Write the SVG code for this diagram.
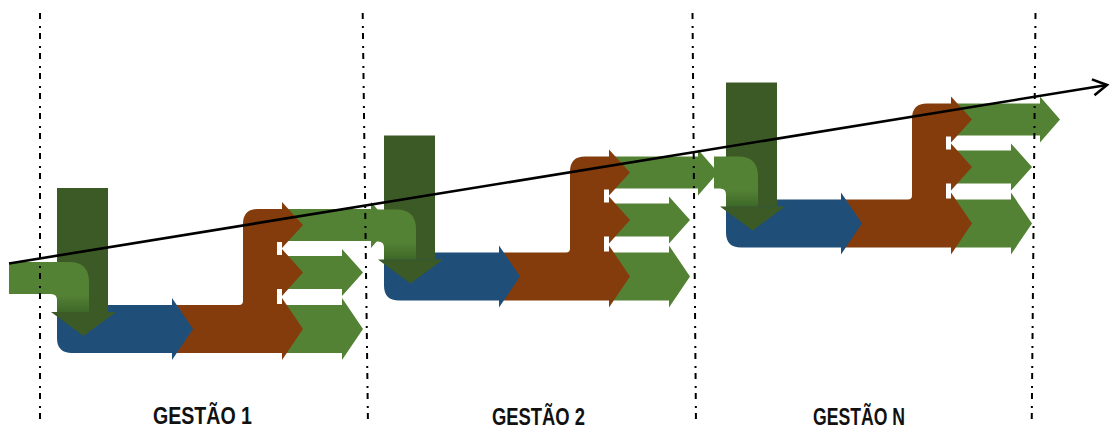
<svg xmlns="http://www.w3.org/2000/svg" width="1110" height="430" viewBox="0 0 1110 430">
  <style>
    .blue{fill:#1F4E79}
    .brown{fill:#843C0C}
    .green{fill:#548235}
    .dark{fill:#3C5A26}
    .bend{fill:url(#bendShade)}
    .gap{fill:#fff}
    .guide{stroke:#000;stroke-width:2;stroke-dasharray:6 7 2 5;fill:none}
    .trend{stroke:#000;stroke-width:2.6;fill:none}
    .label{font-family:"Liberation Sans",Arial,sans-serif;font-weight:bold;font-size:23px;fill:#111}
  </style>
  <defs>
    <linearGradient id="bendShade" x1="0" y1="0" x2="0" y2="1">
      <stop offset="0" stop-color="#548235"/>
      <stop offset="0.66" stop-color="#548235"/>
      <stop offset="1" stop-color="#3D6828"/>
    </linearGradient>
    <marker id="openHead" markerUnits="userSpaceOnUse" viewBox="-16 -10 18 20" refX="0" refY="0" markerWidth="18" markerHeight="20" orient="auto" overflow="visible">
      <path d="M-14,-8 L0,0 L-14,8" fill="none" stroke="#000" stroke-width="2.6"/>
    </marker>
  </defs>

  <!-- stages are drawn last-to-first so each stage's outgoing arrow sits on top of the next stage -->

  <!-- stage N -->
  <g id="stageN" transform="translate(669,-105.5)">
    <g id="stageN-result" class="brown"><path d="M173,305 H239 Q243,305 243,301 V224 Q243,209 258,209 H282 V353 H173 Z"/></g>
    <rect class="gap" x="277" y="242" width="6" height="13"/>
    <rect class="gap" x="277" y="289" width="6" height="15"/>
    <g id="stageN-out" class="green">
      <polygon points="282,209 371,209 371,202 391,225 371,248 371,241 282,241"/>
      <polygon points="282,256 342,256 342,249 363,272.5 342,296 342,289 282,289"/>
      <polygon points="282,305 342,305 342,298 363,329 342,360 342,353 282,353"/>
    </g>
    <g id="stageN-result-heads" class="brown">
      <polygon points="282,202 303,225 282,248"/>
      <polygon points="282,249 303,272.5 282,296"/>
      <polygon points="282,298 303,329 282,360"/>
    </g>
    <g id="stageN-process" class="blue"><path d="M57,305 H172 V298 L193,329 L172,360 V353 H72 Q57,353 57,338 Z"/></g>
    <g id="stageN-plan" class="dark">
      <rect x="57" y="188" width="51" height="124"/>
    </g>
    <g id="stageN-input" class="bend"><path d="M45,262 H69 Q89,262 89,282 V312 H57 V300 Q57,294 51,294 H45 Z"/></g>
    <g id="stageN-plan-head" class="dark"><polygon points="51,312 116,312 83.5,336"/></g>
  </g>

  <!-- stage 2 -->
  <g id="stage2" transform="translate(327,-52.5)">
    <g id="stage2-result" class="brown"><path d="M173,305 H239 Q243,305 243,301 V224 Q243,209 258,209 H282 V353 H173 Z"/></g>
    <rect class="gap" x="277" y="242" width="6" height="13"/>
    <rect class="gap" x="277" y="289" width="6" height="15"/>
    <g id="stage2-out" class="green">
      <polygon points="282,209 371,209 371,202 391,225 371,248 371,241 282,241"/>
      <polygon points="282,256 342,256 342,249 363,272.5 342,296 342,289 282,289"/>
      <polygon points="282,305 342,305 342,298 363,329 342,360 342,353 282,353"/>
    </g>
    <g id="stage2-result-heads" class="brown">
      <polygon points="282,202 303,225 282,248"/>
      <polygon points="282,249 303,272.5 282,296"/>
      <polygon points="282,298 303,329 282,360"/>
    </g>
    <g id="stage2-process" class="blue"><path d="M57,305 H172 V298 L193,329 L172,360 V353 H72 Q57,353 57,338 Z"/></g>
    <g id="stage2-plan" class="dark">
      <rect x="57" y="188" width="51" height="124"/>
    </g>
    <g id="stage2-input" class="bend"><path d="M45,262 H69 Q89,262 89,282 V312 H57 V300 Q57,294 51,294 H45 Z"/></g>
    <g id="stage2-plan-head" class="dark"><polygon points="51,312 116,312 83.5,336"/></g>
  </g>

  <!-- stage 1 -->
  <g id="stage1">
    <g id="stage1-result" class="brown"><path d="M173,305 H239 Q243,305 243,301 V224 Q243,209 258,209 H282 V353 H173 Z"/></g>
    <rect class="gap" x="277" y="242" width="6" height="13"/>
    <rect class="gap" x="277" y="289" width="6" height="15"/>
    <g id="stage1-out" class="green">
      <polygon points="282,209 371,209 371,202 391,225 371,248 371,241 282,241"/>
      <polygon points="282,256 342,256 342,249 363,272.5 342,296 342,289 282,289"/>
      <polygon points="282,305 342,305 342,298 363,329 342,360 342,353 282,353"/>
    </g>
    <g id="stage1-result-heads" class="brown">
      <polygon points="282,202 303,225 282,248"/>
      <polygon points="282,249 303,272.5 282,296"/>
      <polygon points="282,298 303,329 282,360"/>
    </g>
    <g id="stage1-process" class="blue"><path d="M57,305 H172 V298 L193,329 L172,360 V353 H72 Q57,353 57,338 Z"/></g>
    <g id="stage1-plan" class="dark">
      <rect x="57" y="188" width="51" height="124"/>
    </g>
    <g id="stage1-input" class="bend"><path d="M9,262 H69 Q89,262 89,282 V312 H57 V300 Q57,294 51,294 H9 Z"/></g>
    <g id="stage1-plan-head" class="dark"><polygon points="51,312 116,312 83.5,336"/></g>
  </g>

  <!-- period boundaries and rising trend -->
  <g id="connectors">
    <line class="guide" x1="40" y1="13" x2="40" y2="426"/>
    <line class="guide" x1="362.7" y1="13" x2="368" y2="426"/>
    <line class="guide" x1="692.5" y1="13" x2="696" y2="426"/>
    <line class="guide" x1="1035.5" y1="13" x2="1031.7" y2="426"/>
    <line class="trend" x1="9" y1="263.5" x2="1107" y2="85" marker-end="url(#openHead)"/>
  </g>

  <g id="labels">
    <text class="label" x="153" y="424" textLength="99" lengthAdjust="spacingAndGlyphs">GESTÃO 1</text>
    <text class="label" x="492" y="425" textLength="93" lengthAdjust="spacingAndGlyphs">GESTÃO 2</text>
    <text class="label" x="813" y="425" textLength="92" lengthAdjust="spacingAndGlyphs">GESTÃO N</text>
  </g>
</svg>
